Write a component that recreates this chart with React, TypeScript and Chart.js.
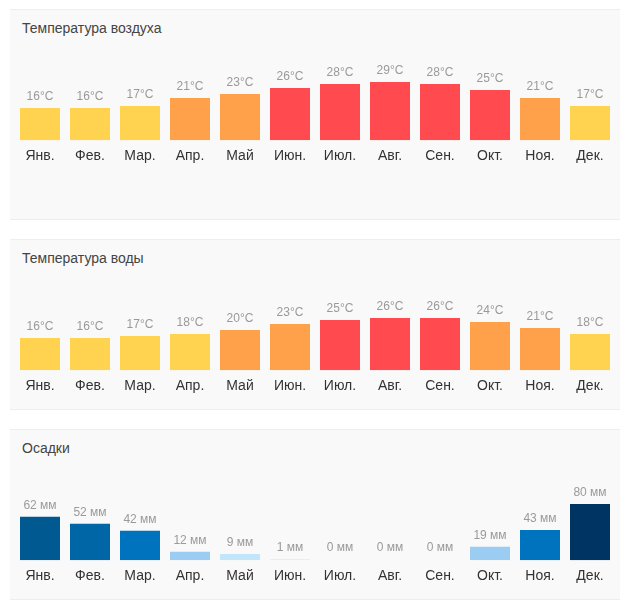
import React, { useEffect, useRef } from "react";
import { Chart, registerables } from "chart.js";

Chart.register(...registerables);

const months = ["Янв.", "Фев.", "Мар.", "Апр.", "Май", "Июн.", "Июл.", "Авг.", "Сен.", "Окт.", "Ноя.", "Дек."];

const airTemp = [16, 16, 17, 21, 23, 26, 28, 29, 28, 25, 21, 17];
const airColors = ["#ffd250", "#ffd250", "#ffd250", "#ffa04b", "#ffa04b", "#ff4b50", "#ff4b50", "#ff4b50", "#ff4b50", "#ff4b50", "#ffa04b", "#ffd250"];

const waterTemp = [16, 16, 17, 18, 20, 23, 25, 26, 26, 24, 21, 18];
const waterColors = ["#ffd250", "#ffd250", "#ffd250", "#ffd250", "#ffa04b", "#ffa04b", "#ff4b50", "#ff4b50", "#ff4b50", "#ffa04b", "#ffa04b", "#ffd250"];

const rain = [62, 52, 42, 12, 9, 1, 0, 0, 0, 19, 43, 80];
const rainColors = ["#005a91", "#0066a6", "#0073be", "#9bcdf2", "#c3e5fb", "#d3ecfc", "rgba(0,0,0,0)", "rgba(0,0,0,0)", "rgba(0,0,0,0)", "#9bcdf2", "#0073be", "#003462"];

const FONT = "'Liberation Sans', Arial, sans-serif";

const valueLabels = {
  id: "valueLabels",
  afterDatasetsDraw(chart: any) {
    const ctx = chart.ctx;
    const unit = chart.options.plugins.valueLabels.unit;
    const meta = chart.getDatasetMeta(0);
    const data = chart.data.datasets[0].data;
    ctx.save();
    ctx.font = `12px ${FONT}`;
    ctx.fillStyle = "#9a9a9a";
    ctx.textAlign = "center";
    ctx.textBaseline = "middle";
    meta.data.forEach((bar: any, i: number) => {
      ctx.fillText(`${data[i]}${unit}`, bar.x, bar.y - 11.5);
    });
    ctx.restore();
  },
};

type PanelProps = {
  title: string;
  values: number[];
  colors: string[];
  max: number;
  unit: string;
  height: number;
  marginTop: number;
  minBar: number;
};

function Panel({ title, values, colors, max, unit, height, marginTop, minBar }: PanelProps) {
  const ref = useRef<HTMLCanvasElement | null>(null);
  useEffect(() => {
    if (!ref.current) return;
    const chart = new Chart(ref.current, {
      type: "bar",
      data: {
        labels: months,
        datasets: [
          {
            data: values,
            backgroundColor: colors,
            barPercentage: 0.8,
            categoryPercentage: 1,
            minBarLength: minBar,
          },
        ],
      },
      options: {
        animation: false,
        responsive: false,
        layout: { padding: { top: 50, bottom: 0, left: 0, right: 0 } },
        plugins: {
          legend: { display: false },
          tooltip: { enabled: false },
          valueLabels: { unit },
        } as any,
        scales: {
          x: {
            grid: { display: false, drawTicks: false },
            border: { display: false },
            ticks: { color: "#333", font: { family: FONT, size: 14 }, padding: 7.5 },
          },
          y: { display: false, min: 0, max },
        },
      },
      plugins: [valueLabels],
    });
    return () => chart.destroy();
  }, []);
  return (
    <div
      style={{
        position: "relative",
        marginLeft: 2,
        marginTop,
        width: 610,
        height,
        boxSizing: "border-box",
        background: "#f9f9f9",
        borderTop: "1px solid #eeeeee",
        borderBottom: "1px solid #eeeeee",
      }}
    >
      <div
        style={{
          position: "absolute",
          left: 12,
          top: 10,
          fontFamily: FONT,
          fontSize: 14,
          lineHeight: "16px",
          color: "#444",
        }}
      >
        {title}
      </div>
      <canvas ref={ref} width={600} height={162} style={{ position: "absolute", left: 5, top: 0 }} />
    </div>
  );
}

export default function App() {
  return (
    <div>
      <Panel title="Температура воздуха" values={airTemp} colors={airColors} max={40} unit="°C" height={211} marginTop={1} minBar={0} />
      <Panel title="Температура воды" values={waterTemp} colors={waterColors} max={40} unit="°C" height={171} marginTop={19} minBar={0} />
      <Panel title="Осадки" values={rain} colors={rainColors} max={114.3} unit=" мм" height={171} marginTop={19} minBar={1} />
    </div>
  );
}
